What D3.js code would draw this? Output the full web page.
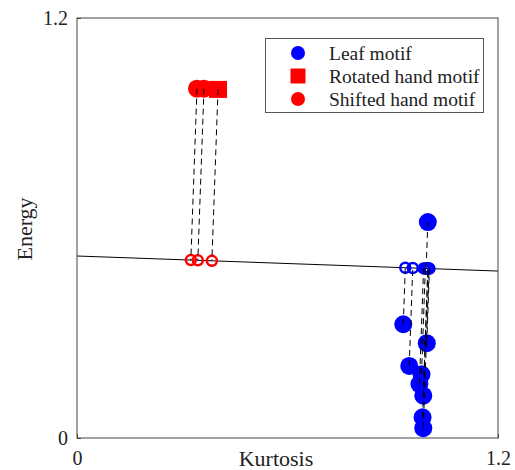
<!DOCTYPE html>
<meta charset="utf-8">
<style>

body {
  margin: 0;
  background: #fff;
}

text {
  font-family: "Liberation Serif", "Times New Roman", serif;
  fill: #222;
}

.proj {
  fill: none;
  stroke-width: 2.5;
}

.link {
  stroke: #000;
  stroke-width: 1;
  stroke-dasharray: 6,4;
}

</style>
<svg></svg>
<script src="https://cdn.jsdelivr.net/npm/d3@7"></script>
<script>

// data
var leafKurtosis = [1.000, 0.930, 0.997, 0.947, 0.982, 0.976, 0.987, 0.985, 0.987],
    leafEnergy   = [0.617, 0.325, 0.271, 0.206, 0.182, 0.154, 0.121, 0.059, 0.028];

var rotatedKurtosis = [0.402],
    rotatedEnergy   = [0.996];

var shiftedKurtosis = [0.342, 0.362],
    shiftedEnergy   = [0.998, 0.998];

// separating line (ends)
var lineKurtosis = [0, 1.2],
    lineEnergy   = [0.520, 0.477];

var xTicks = [0, 1.2],
    yTicks = [0, 1.2];

var legendLabels = ["Leaf motif", "Rotated hand motif", "Shifted hand motif"];

var width = 515,
    height = 470;

var margin = {top: 18, right: 17, bottom: 32, left: 77};

var x = d3.scaleLinear()
    .domain([0, 1.2])
    .range([margin.left, width - margin.right]);

var y = d3.scaleLinear()
    .domain([0, 1.2])
    .range([height - margin.bottom, margin.top]);

var svg = d3.select("svg")
    .attr("width", width)
    .attr("height", height);

svg.append("defs").append("clipPath")
    .attr("id", "clip")
  .append("rect")
    .attr("x", x(0))
    .attr("y", y(1.2))
    .attr("width", x(1.2) - x(0))
    .attr("height", y(0) - y(1.2));

// foot of the perpendicular from a point onto the line
var m = (lineEnergy[1] - lineEnergy[0]) / (lineKurtosis[1] - lineKurtosis[0]),
    b = lineEnergy[0] - m * lineKurtosis[0];

function project(k, e) {
  var t = (k + m * (e - b)) / (1 + m * m);
  return [t, b + m * t];
}

function points(ks, es, color, shape) {
  return ks.map(function(k, i) {
    return {k: k, e: es[i], p: project(k, es[i]), color: color, shape: shape};
  });
}

var leaf = points(leafKurtosis, leafEnergy, "#0000ff", "circle"),
    rotated = points(rotatedKurtosis, rotatedEnergy, "#ff0000", "square"),
    shifted = points(shiftedKurtosis, shiftedEnergy, "#ff0000", "circle");

var all = leaf.concat(rotated, shifted);

var plot = svg.append("g")
    .attr("clip-path", "url(#clip)");

plot.append("line")
    .attr("x1", x(lineKurtosis[0]))
    .attr("y1", y(lineEnergy[0]))
    .attr("x2", x(lineKurtosis[1]))
    .attr("y2", y(lineEnergy[1]))
    .attr("stroke", "#000")
    .attr("stroke-width", 1);

// filled markers
plot.selectAll("circle.pt")
    .data(all.filter(function(d) { return d.shape == "circle"; }))
  .enter().append("circle")
    .attr("class", "pt")
    .attr("cx", function(d) { return x(d.k); })
    .attr("cy", function(d) { return y(d.e); })
    .attr("r", 9)
    .attr("fill", function(d) { return d.color; });

plot.selectAll("rect.pt")
    .data(all.filter(function(d) { return d.shape == "square"; }))
  .enter().append("rect")
    .attr("class", "pt")
    .attr("x", function(d) { return x(d.k) - 9; })
    .attr("y", function(d) { return y(d.e) - 8.5; })
    .attr("width", 18)
    .attr("height", 17)
    .attr("fill", function(d) { return d.color; });

// projections onto the line
plot.selectAll("circle.proj")
    .data(all)
  .enter().append("circle")
    .attr("class", "proj")
    .attr("cx", function(d) { return x(d.p[0]); })
    .attr("cy", function(d) { return y(d.p[1]); })
    .attr("r", 5)
    .attr("stroke", function(d) { return d.color; });

plot.selectAll("line.link")
    .data(all)
  .enter().append("line")
    .attr("class", "link")
    .attr("x1", function(d) { return x(d.k); })
    .attr("y1", function(d) { return y(d.e); })
    .attr("x2", function(d) { return x(d.p[0]); })
    .attr("y2", function(d) { return y(d.p[1]); });

// axes box
var axisColor = "#444";

svg.append("rect")
    .attr("x", x(0))
    .attr("y", y(1.2))
    .attr("width", x(1.2) - x(0))
    .attr("height", y(0) - y(1.2))
    .attr("fill", "none")
    .attr("stroke", axisColor)
    .attr("stroke-width", 1);

var xAxis = svg.append("g")
    .attr("transform", "translate(0," + y(0) + ")")
    .call(d3.axisBottom(x).tickValues(xTicks).tickSizeInner(-4).tickSizeOuter(0)
      .tickFormat(d3.format("")));

var yAxis = svg.append("g")
    .attr("transform", "translate(" + x(0) + ",0)")
    .call(d3.axisLeft(y).tickValues(yTicks).tickSizeInner(-4).tickSizeOuter(0)
      .tickFormat(d3.format("")));

svg.selectAll(".domain").remove();
svg.selectAll(".tick line").attr("stroke", axisColor);
svg.selectAll(".tick text")
    .attr("font-family", "Liberation Serif")
    .attr("font-size", 20)
    .attr("fill", "#222");
xAxis.selectAll(".tick text").attr("dy", "0.71em").attr("y", 13);
yAxis.selectAll(".tick text").attr("x", -9);

svg.append("text")
    .attr("x", 276)
    .attr("y", 466)
    .attr("text-anchor", "middle")
    .attr("font-size", 22)
    .text("Kurtosis");

svg.append("text")
    .attr("transform", "translate(32,229) rotate(-90)")
    .attr("text-anchor", "middle")
    .attr("font-size", 22)
    .text("Energy");

// legend
var legend = svg.append("g");

legend.append("rect")
    .attr("x", 265.5)
    .attr("y", 38.5)
    .attr("width", 218)
    .attr("height", 74)
    .attr("fill", "#fff")
    .attr("stroke", "#555")
    .attr("stroke-width", 1);

var legendColors = ["#0000ff", "#ff0000", "#ff0000"],
    legendShapes = ["circle", "square", "circle"];

var row = legend.selectAll("g.row")
    .data(legendLabels)
  .enter().append("g")
    .attr("class", "row")
    .attr("transform", function(d, i) { return "translate(298," + (53 + i * 23) + ")"; });

row.each(function(d, i) {
  var g = d3.select(this);
  if (legendShapes[i] == "circle") {
    g.append("circle").attr("r", 7).attr("fill", legendColors[i]);
  } else {
    g.append("rect").attr("x", -7.5).attr("y", -7.5).attr("width", 15).attr("height", 15)
        .attr("fill", legendColors[i]);
  }
});

row.append("text")
    .attr("x", 31)
    .attr("dy", "0.35em")
    .attr("font-size", 19.5)
    .text(function(d) { return d; });

</script>
